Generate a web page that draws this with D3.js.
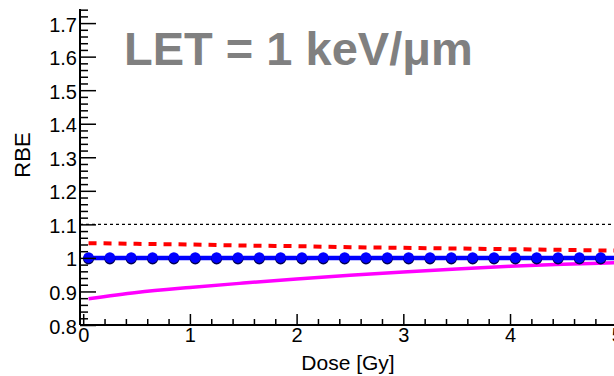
<!DOCTYPE html>
<html><head><meta charset="utf-8">
<script src="https://cdn.jsdelivr.net/npm/d3@7"></script>
<style>
html,body{margin:0;padding:0;background:#fff;}
text{font-family:"Liberation Sans",Arial,sans-serif;}
</style></head>
<body>
<svg id="chart" width="614" height="376"></svg>
<script>
// ---- data ----
const title = "LET = 1 keV/\u03bcm";
const xLabel = "Dose [Gy]";
const yLabel = "RBE";
const xTicks = [0, 1, 2, 3, 4, 5];
const yTicks = [0.8, 0.9, 1.0, 1.1, 1.2, 1.3, 1.4, 1.5, 1.6, 1.7];
const yTickLabels = ["0.8", "0.9", "1", "1.1", "1.2", "1.3", "1.4", "1.5", "1.6", "1.7"];
const refLevel = 1.1;
const curveDose = [0.05, 0.5, 1, 1.5, 2, 2.5, 3, 3.5, 4, 4.5, 5, 5.1];
const redValues = [1.044, 1.042, 1.040, 1.037, 1.035, 1.032, 1.030, 1.028, 1.026, 1.024, 1.022, 1.022];
const magentaValues = [0.878, 0.897, 0.912, 0.925, 0.937, 0.948, 0.958, 0.967, 0.975, 0.981, 0.986, 0.987];
const markerDose = [0.05, 0.25, 0.45, 0.65, 0.85, 1.05, 1.25, 1.45, 1.65, 1.85, 2.05, 2.25, 2.45, 2.65, 2.85, 3.05, 3.25, 3.45, 3.65, 3.85, 4.05, 4.25, 4.45, 4.65, 4.85, 5.05];
const blueValues = [1, 1, 1, 1, 1, 1, 1, 1, 1, 1, 1, 1, 1, 1, 1, 1, 1, 1, 1, 1, 1, 1, 1, 1, 1, 1];

// ---- layout ----
const svg = d3.select("#chart");
const x0 = 80, x1 = 627.4, yBottom = 325, yTop = 9;
const x = d3.scaleLinear().domain([-0.03, 5.1]).range([x0, x1]);
const y = d3.scaleLinear().domain([0.8, 1.742]).range([yBottom, yTop]);

// title
svg.append("text").attr("x", 124).attr("y", 65)
  .attr("font-size", 47).attr("font-weight", "bold").attr("fill", "#808080")
  .text(title);

// reference dotted line
svg.append("line")
  .attr("x1", x0).attr("x2", x1).attr("y1", y(refLevel)).attr("y2", y(refLevel))
  .attr("stroke", "#000").attr("stroke-width", 1.3).attr("stroke-dasharray", "3,3");

// red dashed
const line = d3.line().curve(d3.curveMonotoneX);
svg.append("path")
  .attr("d", line(curveDose.map((d, i) => [x(d), y(redValues[i])])))
  .attr("fill", "none").attr("stroke", "#ff0000").attr("stroke-width", 4)
  .attr("stroke-dasharray", "8,7");

// magenta
svg.append("path")
  .attr("d", line(curveDose.map((d, i) => [x(d), y(magentaValues[i])])))
  .attr("fill", "none").attr("stroke", "#ff00ff").attr("stroke-width", 3.5);

// blue line with markers
svg.append("path")
  .attr("d", line(markerDose.map((d, i) => [x(d), y(blueValues[i])])))
  .attr("fill", "none").attr("stroke", "#0000ff").attr("stroke-width", 4.5);
svg.append("g").selectAll("circle.s").data(markerDose).join("circle")
  .attr("cx", d => x(d)).attr("cy", (d, i) => y(blueValues[i]) + 1)
  .attr("r", 5.5).attr("fill", "#000050");
svg.append("g").selectAll("circle.m").data(markerDose).join("circle")
  .attr("cx", d => x(d)).attr("cy", (d, i) => y(blueValues[i]) - 0.3)
  .attr("r", 5.3).attr("fill", "#0000ff");

// axes
const xMinor = d3.range(0, 5.11, 0.2).filter(v => Math.abs(v - Math.round(v)) > 1e-6);
const yMinor = d3.range(0.8, 1.741, 0.02).filter(v => Math.abs(v * 10 - Math.round(v * 10)) > 1e-6);

const gx = svg.append("g").attr("transform", `translate(0,${yBottom})`);
gx.call(d3.axisBottom(x).tickValues(xTicks).tickSize(-11).tickPadding(3).tickFormat(d3.format("d")));
gx.append("g").call(d3.axisBottom(x).tickValues(xMinor).tickSize(-6).tickFormat(""));
gx.selectAll(".domain").remove();
gx.append("line").attr("x1", x0).attr("x2", x1).attr("stroke", "#000").attr("stroke-width", 2);

const gy = svg.append("g").attr("transform", `translate(${x0},0)`);
gy.call(d3.axisLeft(y).tickValues(yTicks).tickSize(-16).tickPadding(3)
  .tickFormat((d, i) => yTickLabels[i]));
gy.append("g").call(d3.axisLeft(y).tickValues(yMinor).tickSize(-8).tickFormat(""));
gy.selectAll(".domain").remove();
gy.append("line").attr("y1", yTop).attr("y2", yBottom).attr("stroke", "#000").attr("stroke-width", 2);

svg.selectAll(".tick line").attr("stroke", "#000").attr("stroke-width", 1.5);
svg.selectAll(".tick text").attr("font-size", 20).attr("fill", "#000")
  .attr("font-family", "Liberation Sans, Arial, sans-serif");
gx.selectAll(".tick text").attr("dy", "0.71em");
gy.selectAll(".tick text").attr("dy", "0.4em");

// axis labels
svg.append("text").attr("x", 348).attr("y", 370).attr("text-anchor", "middle")
  .attr("font-size", 21).text(xLabel);
svg.append("text").attr("transform", "translate(30,155) rotate(-90)")
  .attr("text-anchor", "middle").attr("font-size", 22).text(yLabel);
</script>
</body></html>
